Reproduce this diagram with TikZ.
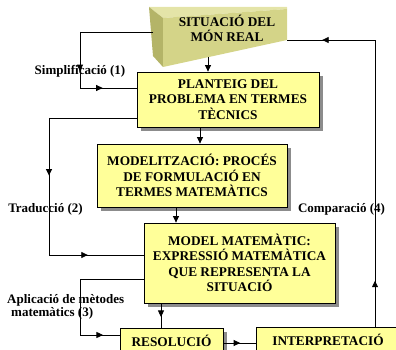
\documentclass[tikz,border=0pt]{standalone}
\usepackage{fontspec}
\setmainfont{Liberation Serif}
\usetikzlibrary{arrows.meta,shadows,decorations.markings}

\definecolor{groccaixa}{HTML}{FFFF99}
\definecolor{ombra}{HTML}{8C8C8C}
\definecolor{olivafront}{HTML}{D4D488}
\definecolor{olivalat}{HTML}{B4B468}
\definecolor{olivasup}{HTML}{E4E4A8}

\tikzset{
  caixa/.style={draw, line width=0.8pt, fill=groccaixa, inner sep=0pt, align=center,
    font=\bfseries\fontsize{13.3}{15.5}\selectfont,
    drop shadow={shadow xshift=4pt, shadow yshift=-4pt, fill=ombra, opacity=1}},
  etiqueta/.style={font=\bfseries\fontsize{13}{13}\selectfont, inner sep=0pt},
  punta/.tip={Triangle[length=6.5pt,width=6pt]},
  fletxa/.style={line width=0.8pt, -punta},
  linia/.style={line width=0.8pt},
  fletxamig/.style={line width=0.8pt, postaction={decorate},
    decoration={markings, mark=at position #1 with {\arrow{punta}}}},
}

\begin{document}
\begin{tikzpicture}[x=1pt, y=-1pt]

    \useasboundingbox (0,0) rectangle (396,350);
    \clip (0,0) rectangle (396,350);

    % caixa 3D de la situacio real
    \fill[olivasup] (149,7) -- (287,7) -- (287,9) -- (163,18) -- cycle;
    \fill[olivalat] (149,7) -- (163,18) -- (163,67) -- (153,56) -- cycle;
    \fill[olivafront] (163,18) -- (287,9) -- (287,40) -- (163,67) -- cycle;
    \node[font=\bfseries\fontsize{13.3}{15}\selectfont, align=center] (sit) at (227,28.5) {SITUACIÓ DEL\\MÓN REAL};
    \coordinate (sitE) at (153,32);
    \coordinate (sitD) at (287,40);
    \coordinate (sitS) at (208,57);

    \node[caixa, minimum width=182, minimum height=55] (plan) at (228,99.5) {PLANTEIG DEL\\PROBLEMA EN TERMES\\TÈCNICS};
    \node[caixa, minimum width=190, minimum height=63] (mode) at (192,175.5) {MODELITZACIÓ: PROCÉS\\DE FORMULACIÓ EN\\TERMES MATEMÀTICS};
    \node[caixa, minimum width=191, minimum height=80] (mmat) at (239.5,263) {MODEL MATEMÀTIC:\\EXPRESSIÓ MATEMÀTICA\\QUE REPRESENTA LA\\SITUACIÓ};
    \node[caixa, minimum width=103, minimum height=26] (reso) at (171.5,341) {RESOLUCIÓ};
    \node[caixa, minimum width=144, minimum height=26] (inte) at (328,340) {INTERPRETACIÓ};

    \node[etiqueta] (simp) at (80,71.5) {Simplificació (1)};
    \node[etiqueta] (trad) at (45.5,209) {Traducció (2)};
    \node[etiqueta] (comp) at (341.5,209) {Comparació (4)};
    \node[etiqueta, anchor=west, align=left] (apli) at (7,307) {Aplicació de mètodes\\\hspace*{4pt}matemàtics (3)};

    % punts de gir
    \coordinate (s1) at (80,32);
    \coordinate (s2) at (80,88);
    \coordinate (t1) at (49,118);
    \coordinate (t2) at (49,255);
    \coordinate (a1) at (80,279);
    \coordinate (a2) at (80,335);
    \coordinate (c1) at (375,40);
    \coordinate (xa) at (200,0);
    \coordinate (xb) at (176,0);
    \coordinate (xc) at (161,0);
    \coordinate (yr) at (0,343);

    \draw[fletxa] (sitS) -- (sitS |- plan.north);
    \draw[linia] (sitE) -- (s1);
    \draw[fletxamig=0.7] (s1) -- (s2);
    \draw[fletxamig=0.4] (s2) -- (s2 -| plan.west);

    \draw[fletxa] (plan.south -| xa) -- (mode.north -| xa);
    \draw[linia] (t1 -| plan.west) -- (t1);
    \draw[fletxamig=0.42] (t1) -- (t2);
    \draw[fletxamig=0.41] (t2) -- (t2 -| mmat.west);

    \draw[fletxa] (mode.south -| xb) -- (mmat.north -| xb);
    \draw[linia] (a1 -| mmat.west) -- (a1) -- (a2);
    \draw[fletxamig=0.58] (a2) -- (a2 -| reso.west);

    \draw[fletxamig=0.56] (mmat.south -| xc) -- (reso.north -| xc);
    \draw[fletxamig=0.52] (reso.east |- yr) -- (inte.west |- yr);

    \draw[fletxamig=0.16] (inte.north -| c1) -- (c1);
    \draw[fletxamig=0.6] (c1) -- (sitD);

\end{tikzpicture}
\end{document}
